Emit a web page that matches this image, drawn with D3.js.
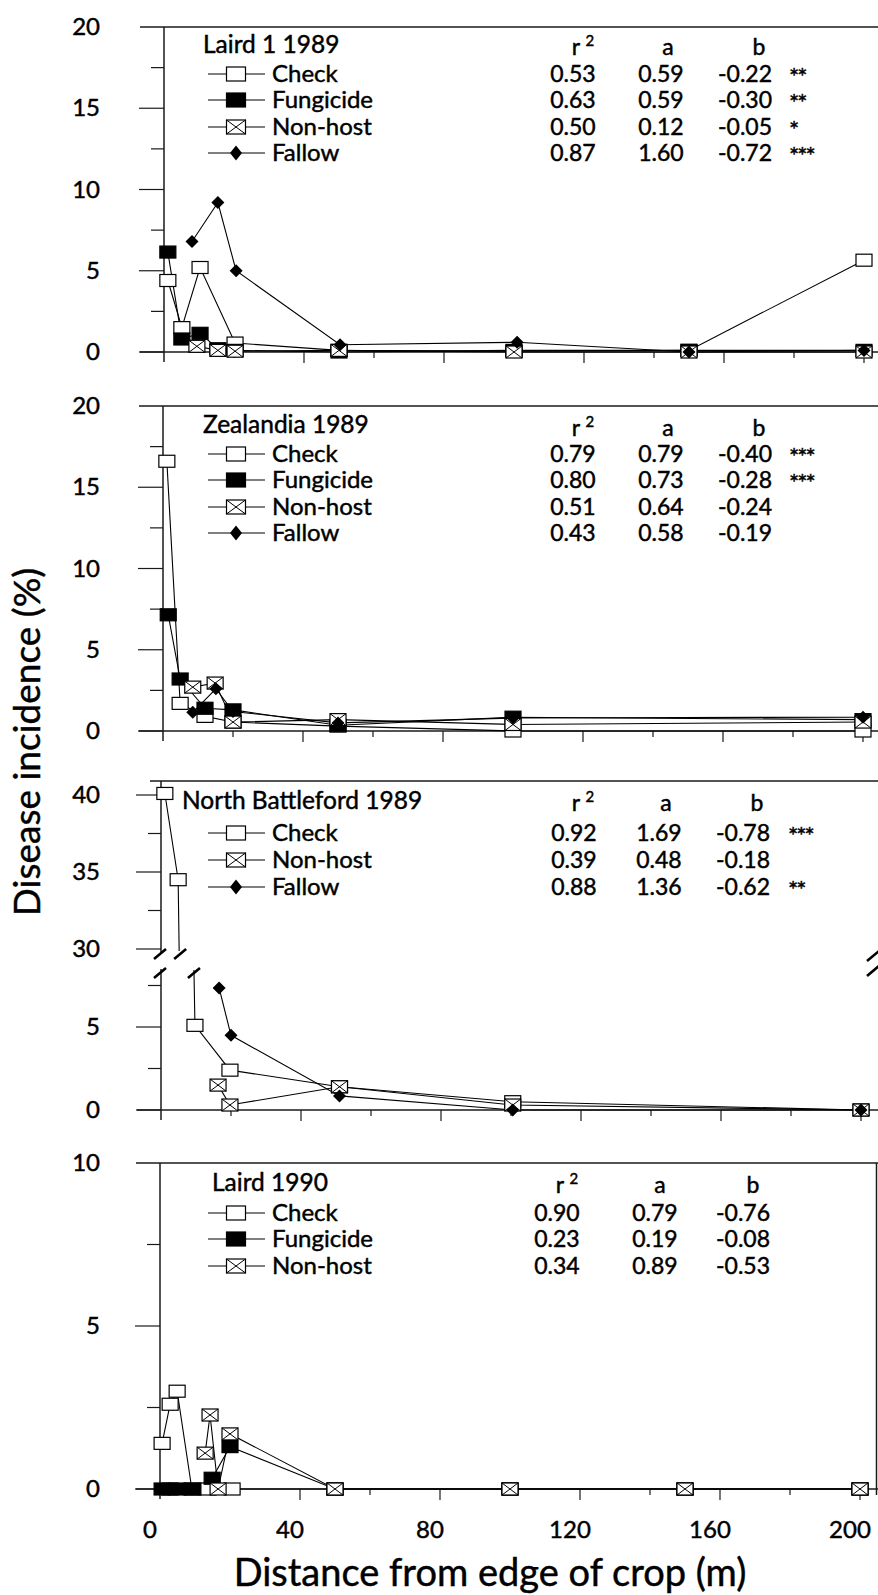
<!DOCTYPE html>
<html>
<head>
<meta charset="utf-8">
<script src="https://cdn.jsdelivr.net/npm/d3@7"></script>
<style>
  body { margin: 0; background: #fff; }
  text { font-family: Lato, 'Open Sans', sans-serif; fill: #000; stroke: #000; stroke-width: 0.45px; }
</style>
</head>
<body>
<div id="chart"></div>
<script>
// distance (m) tick labels
const distTicks = [0, 40, 80, 120, 160, 200]

// [distance from edge (m), disease incidence (%)]
const laird89Check = [[1.1, 4.4], [5.1, 1.5], [10.3, 5.2], [20.3, 0.55], [50, 0.1], [100, 0.05], [150, 0.1], [200, 5.65]]
const laird89Fungicide = [[1.1, 6.15], [5.1, 0.8], [10.3, 1.15], [15.4, 0.2], [20.3, 0.1], [50, 0], [100, 0.1], [150, 0.1], [200, 0.1]]
const laird89NonHost = [[9.4, 0.35], [15.4, 0.1], [20.3, 0.05], [50, 0.1], [100, 0], [150, 0], [200, 0]]
const laird89Fallow = [[8, 6.8], [15.4, 9.2], [20.6, 5.0], [50.3, 0.45], [100.9, 0.6], [150, 0], [200, 0.1]]

const zeal89Check = [[1.1, 16.6], [4.9, 1.7], [12, 0.9], [20, 0.55], [50, 0.3], [100, 0], [200, 0]]
const zeal89Fungicide = [[1.5, 7.15], [4.9, 3.2], [12, 1.4], [20, 1.3], [50, 0.35], [100, 0.85], [200, 0.7]]
const zeal89NonHost = [[8.5, 2.7], [14.9, 2.95], [20, 0.55], [50, 0.7], [100, 0.4], [200, 0.55]]
const zeal89Fallow = [[8.5, 1.15], [15.1, 2.6], [20, 1.2], [50, 0.5], [100, 0.8], [200, 0.85]]

// North Battleford check runs across the broken axis
const nbCheckHigh = [[1.1, 40.1], [4.9, 34.5]]
const nbCheckLow = [[9.7, 5.1], [19.7, 2.4], [51, 1.4], [100.5, 0.5], [200, 0]]
const nb89NonHost = [[16.3, 1.5], [19.7, 0.3], [51, 1.4], [100.5, 0.3], [200, 0]]
const nb89Fallow = [[16.6, 7.35], [20, 4.5], [51, 0.85], [100.5, 0], [200, 0]]

const laird90Check = [[0.6, 1.4], [2.9, 2.6], [4.9, 3.0], [9.1, 0], [13.7, 0], [20.6, 0], [50, 0], [100, 0], [150, 0], [200, 0]]
const laird90Fungicide = [[0.6, 0], [2.9, 0], [4.9, 0], [9.4, 0], [14.9, 0.33], [20, 1.3], [50, 0], [100, 0], [150, 0], [200, 0]]
const laird90NonHost = [[12.9, 1.1], [14.3, 2.27], [16.6, 0], [20, 1.69], [50, 0], [100, 0], [150, 0], [200, 0]]

// regression table: r2, a, b, significance
const laird89Stats = [['0.53', '0.59', '-0.22', '**'], ['0.63', '0.59', '-0.30', '**'], ['0.50', '0.12', '-0.05', '*'], ['0.87', '1.60', '-0.72', '***']]
const zeal89Stats = [['0.79', '0.79', '-0.40', '***'], ['0.80', '0.73', '-0.28', '***'], ['0.51', '0.64', '-0.24', ''], ['0.43', '0.58', '-0.19', '']]
const nb89Stats = [['0.92', '1.69', '-0.78', '***'], ['0.39', '0.48', '-0.18', ''], ['0.88', '1.36', '-0.62', '**']]
const laird90Stats = [['0.90', '0.79', '-0.76', ''], ['0.23', '0.19', '-0.08', ''], ['0.34', '0.89', '-0.53', '']]

const W = 878, H = 1595, RIGHT = 878
const svg = d3.select('#chart').append('svg')
  .attr('width', W)
  .attr('height', H)

// layout of the four stacked panels
const panels = [
  {
    title: 'Laird 1 1989', yMax: 20, top: 27, zero: 352, x0: 164,
    series: [['Check', laird89Check], ['Fungicide', laird89Fungicide], ['Non-host', laird89NonHost], ['Fallow', laird89Fallow]],
    stats: laird89Stats, titleX: 203, titleY: 53, rows: [74, 100, 127, 153], headY: 47,
    cols: [573, 661, 772, 788], heads: [583, 668, 759]
  },
  {
    title: 'Zealandia 1989', yMax: 20, top: 406, zero: 731, x0: 163,
    series: [['Check', zeal89Check], ['Fungicide', zeal89Fungicide], ['Non-host', zeal89NonHost], ['Fallow', zeal89Fallow]],
    stats: zeal89Stats, titleX: 203, titleY: 433, rows: [454, 480, 507, 533], headY: 428,
    cols: [573, 661, 772, 788], heads: [583, 668, 759]
  },
  {
    title: 'North Battleford 1989', broken: true, top: 781, zero: 1110, x0: 161,
    series: [['Check', null], ['Non-host', nb89NonHost], ['Fallow', nb89Fallow]],
    stats: nb89Stats, titleX: 182, titleY: 809, rows: [833, 860, 887], headY: 803,
    cols: [574, 659, 770, 787], heads: [583, 666, 757]
  },
  {
    title: 'Laird 1990', yMax: 10, top: 1163, zero: 1489, x0: 160, rightBorder: true,
    series: [['Check', laird90Check], ['Fungicide', laird90Fungicide], ['Non-host', laird90NonHost]],
    stats: laird90Stats, titleX: 212, titleY: 1191, rows: [1213, 1239, 1266], headY: 1185,
    cols: [557, 655, 770, 787], heads: [567, 660, 753]
  }
]

const axisColor = '#1a1a1a'

function drawMarker(g, kind, x, y, big) {
  const w = big ? 19 : 16, h = big ? 14 : 12
  if (kind === 'Fallow') {
    const dx = big ? 6 : 6.5, dy = big ? 7.5 : 6.5
    g.append('path')
      .attr('d', `M${x},${y - dy}L${x + dx},${y}L${x},${y + dy}L${x - dx},${y}Z`)
      .attr('fill', '#000')
    return
  }
  g.append('rect')
    .attr('x', x - w / 2).attr('y', y - h / 2)
    .attr('width', w).attr('height', h)
    .attr('fill', kind === 'Fungicide' ? '#000' : '#fff')
    .attr('stroke', '#000')
    .attr('stroke-width', 1.2)
  if (kind === 'Non-host') {
    g.append('path')
      .attr('d', `M${x - w / 2},${y - h / 2}L${x + w / 2},${y + h / 2}M${x + w / 2},${y - h / 2}L${x - w / 2},${y + h / 2}`)
      .attr('stroke', '#000')
      .attr('stroke-width', 1)
  }
}

function hline(g, x1, x2, y, w) {
  g.append('line').attr('x1', x1).attr('x2', x2).attr('y1', y).attr('y2', y)
    .attr('stroke', axisColor).attr('stroke-width', w || 1.5)
}
function vline(g, x, y1, y2, w) {
  g.append('line').attr('x1', x).attr('x2', x).attr('y1', y1).attr('y2', y2)
    .attr('stroke', axisColor).attr('stroke-width', w || 1.5)
}
function slash(g, cx, cy) {
  g.append('line').attr('x1', cx - 6).attr('y1', cy + 5).attr('x2', cx + 6).attr('y2', cy - 5)
    .attr('stroke', '#000').attr('stroke-width', 2.6)
}

for (const p of panels) {
  const g = svg.append('g')
  const x = d3.scaleLinear().domain([0, 200]).range([p.x0, p.x0 + 700])
  let y, yHigh, yLow
  if (p.broken) {
    yHigh = d3.scaleLinear().domain([30, 40]).range([949, 795])
    yLow = d3.scaleLinear().domain([0, 5]).range([p.zero, 1027])
    y = v => v >= 30 ? yHigh(v) : yLow(v)
  } else {
    y = d3.scaleLinear().domain([0, p.yMax]).range([p.zero, p.top])
  }

  // frame: top border, y axis, zero line
  hline(g, p.broken ? 150 : p.x0 - 24, RIGHT, p.top)
  hline(g, p.x0 - 24, RIGHT, p.zero)
  if (p.rightBorder) vline(g, RIGHT - 1.5, p.top, p.zero + 6)

  // y ticks
  let yTicks
  if (p.broken) {
    yTicks = [...d3.range(0, 8, 2.5), ...d3.range(30, 40.1, 2.5)]
    vline(g, p.x0, p.top, yHigh(30) + 4)
    vline(g, p.x0, yLow(8.5), p.zero + 10)
    slash(g, p.x0 - 1, yHigh(30) + 5)
    slash(g, p.x0 - 1, yLow(8.5) + 4)
    slash(g, RIGHT - 5, yHigh(30) + 7)
    slash(g, RIGHT - 5, yLow(8.5) + 2)
  } else {
    yTicks = d3.range(0, p.yMax, 2.5)
    vline(g, p.x0, p.top, p.zero + 10)
  }
  for (const t of yTicks) {
    const major = t % 5 === 0
    hline(g, p.x0 - (major ? 25 : 13), p.x0, y(t), 1.2)
  }
  const yLabels = p.broken ? [0, 5, 30, 35, 40] : d3.range(0, p.yMax + 0.1, 5)
  g.selectAll('.ylab').data(yLabels).enter().append('text')
    .attr('x', 100)
    .attr('y', d => (d === p.yMax ? p.top : y(d)) + 8)
    .attr('text-anchor', 'end')
    .style('font-size', '24px')
    .text(d => d)

  // x ticks along the zero line
  for (const t of d3.range(20, 201, 20)) {
    const major = t % 40 === 0
    vline(g, x(t), p.zero, p.zero + (major ? 11 : 6), 1.2)
  }

  // series lines then markers
  const line = d3.line().x(d => x(d[0])).y(d => y(d[1]))
  const order = ['Check', 'Fungicide', 'Non-host', 'Fallow']
  const drawn = p.series.slice().sort((a, b) => order.indexOf(a[0]) - order.indexOf(b[0]))
  for (const [name, data] of drawn) {
    if (name === 'Check' && p.broken) {
      const hi = nbCheckHigh.map(d => [x(d[0]), yHigh(d[1])])
      const last = nbCheckHigh[nbCheckHigh.length - 1]
      hi.push([x(last[0]) + 1, yHigh(30) + 2])
      const lo = nbCheckLow.map(d => [x(d[0]), yLow(d[1])])
      lo.unshift([x(nbCheckLow[0][0]) - 1, yLow(8.5) + 1])
      g.append('path').attr('d', d3.line()(hi)).attr('fill', 'none').attr('stroke', '#000').attr('stroke-width', 1.1)
      g.append('path').attr('d', d3.line()(lo)).attr('fill', 'none').attr('stroke', '#000').attr('stroke-width', 1.1)
      slash(g, x(last[0]) + 2, yHigh(30) + 5)
      slash(g, x(nbCheckLow[0][0]) - 1, yLow(8.5) + 4)
      continue
    }
    g.append('path').datum(data)
      .attr('d', line)
      .attr('fill', 'none')
      .attr('stroke', '#000')
      .attr('stroke-width', 1.1)
  }
  for (const [name, data] of drawn) {
    if (name === 'Check' && p.broken) {
      for (const d of nbCheckHigh) drawMarker(g, name, x(d[0]), yHigh(d[1]))
      for (const d of nbCheckLow) drawMarker(g, name, x(d[0]), yLow(d[1]))
      continue
    }
    for (const d of data) drawMarker(g, name, x(d[0]), y(d[1]))
  }

  // legend
  g.append('text')
    .attr('x', p.titleX).attr('y', p.titleY)
    .style('font-size', '24.5px')
    .text(p.title)
  p.series.forEach(([name], i) => {
    const ry = p.rows[i]
    g.append('line').attr('x1', 208).attr('x2', 265).attr('y1', ry).attr('y2', ry)
      .attr('stroke', '#000').attr('stroke-width', 1.1)
    drawMarker(g, name, 236, ry, true)
    g.append('text')
      .attr('x', 272).attr('y', ry + 8)
      .style('font-size', '24px')
      .text(name)
  })

  // regression table
  const head = g.append('text')
    .attr('x', p.heads[0]).attr('y', p.headY + 8)
    .attr('text-anchor', 'middle')
    .style('font-size', '23px')
  head.append('tspan').text('r ')
  head.append('tspan').attr('dy', -9).style('font-size', '15px').text('2')
  g.append('text').attr('x', p.heads[1]).attr('y', p.headY + 8)
    .attr('text-anchor', 'middle').style('font-size', '23px').text('a')
  g.append('text').attr('x', p.heads[2]).attr('y', p.headY + 8)
    .attr('text-anchor', 'middle').style('font-size', '23px').text('b')
  p.stats.forEach((row, i) => {
    const ty = p.rows[i] + 8
    g.append('text').attr('x', p.cols[0]).attr('y', ty).attr('text-anchor', 'middle')
      .style('font-size', '23px').text(row[0])
    g.append('text').attr('x', p.cols[1]).attr('y', ty).attr('text-anchor', 'middle')
      .style('font-size', '23px').text(row[1])
    g.append('text').attr('x', p.cols[2]).attr('y', ty).attr('text-anchor', 'end')
      .style('font-size', '23px').text(row[2])
    if (row[3]) {
      g.append('text').attr('x', p.cols[3] + 1).attr('y', ty + 3)
        .style('font-size', '24px').style('letter-spacing', '-2px')
        .text(row[3])
    }
  })

  // distance labels only under the bottom panel
  if (p === panels[panels.length - 1]) {
    g.selectAll('.xlab').data(distTicks).enter().append('text')
      .attr('x', d => x(d) - 10)
      .attr('y', p.zero + 49)
      .attr('text-anchor', 'middle')
      .style('font-size', '24px')
      .text(d => d)
  }
}

// axis titles
svg.append('text')
  .attr('x', 490).attr('y', 1586)
  .attr('text-anchor', 'middle')
  .style('font-size', '38px')
  .text('Distance from edge of crop (m)')
svg.append('text')
  .attr('transform', 'translate(40,742) rotate(-90)')
  .attr('text-anchor', 'middle')
  .style('font-size', '37px')
  .text('Disease incidence (%)')
</script>
</body>
</html>
